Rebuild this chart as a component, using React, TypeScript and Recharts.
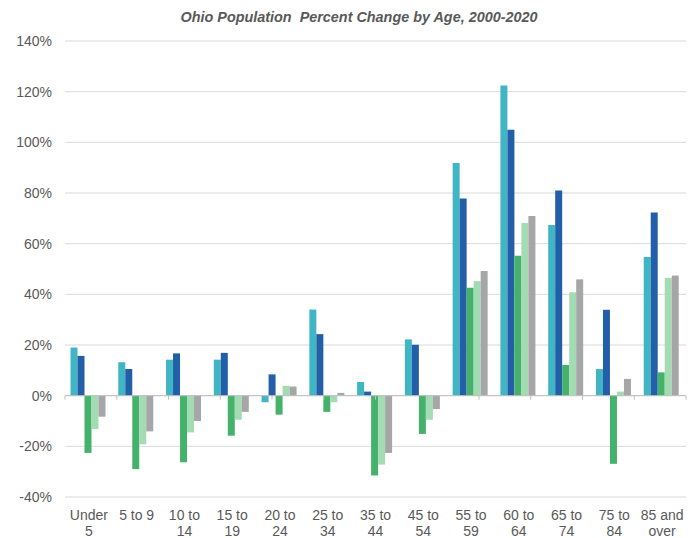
import React from 'react';
import {
  BarChart,
  Bar,
  XAxis,
  YAxis,
  CartesianGrid,
  ReferenceLine,
} from 'recharts';

const ages = [
  'Under 5', '5 to 9', '10 to 14', '15 to 19', '20 to 24', '25 to 34', '35 to 44',
  '45 to 54', '55 to 59', '60 to 64', '65 to 74', '75 to 84', '85 and over',
];
const labelLines = [
  ['Under', '5'], ['5 to 9'], ['10 to', '14'], ['15 to', '19'], ['20 to', '24'],
  ['25 to', '34'], ['35 to', '44'], ['45 to', '54'], ['55 to', '59'], ['60 to', '64'],
  ['65 to', '74'], ['75 to', '84'], ['85 and', 'over'],
];

const s1 = [19.0, 13.2, 14.2, 14.2, -2.6, 34.0, 5.4, 22.2, 91.8, 122.4, 67.4, 10.5, 54.7];
const s2 = [15.7, 10.5, 16.7, 16.9, 8.4, 24.3, 1.6, 20.1, 77.8, 105.0, 81.0, 33.9, 72.3];
const s3 = [-22.6, -29.0, -26.3, -15.8, -7.5, -6.4, -31.5, -15.1, 42.6, 55.2, 12.1, -26.9, 9.2];
const s4 = [-13.2, -19.2, -14.5, -9.5, 3.9, -2.6, -27.2, -9.5, 45.2, 68.2, 40.8, 1.6, 46.5];
const s5 = [-8.3, -14.1, -10.0, -6.4, 3.6, 1.1, -22.6, -5.3, 49.2, 70.9, 45.9, 6.6, 47.4];

const yTicks = [-40, -20, 0, 20, 40, 60, 80, 100, 120, 140];
const boundaries = [0, 1, 2, 3, 4, 5, 6, 7, 8, 9, 10, 11, 12, 13];

const colors = ['#40B6C4', '#235FA8', '#45B26B', '#A3DBB3', '#A6A6A6'];

const data = ages.map((age, i) => ({
  age,
  s1: s1[i],
  s2: s2[i],
  s3: s3[i],
  s4: s4[i],
  s5: s5[i],
}));

const AgeTick = ({ x, y, payload, index }: any) => {
  const lines = labelLines[index] || [payload.value];
  return (
    <text x={x} y={y} textAnchor="middle" fill="#595959" fontSize={14}>
      {lines.map((l: string, k: number) => (
        <tspan key={k} x={x} dy={k === 0 ? 15 : 16}>
          {l}
        </tspan>
      ))}
    </text>
  );
};

export default function App() {
  return (
    <div
      style={{
        position: 'absolute',
        left: 0,
        top: 0,
        width: 698,
        height: 538,
        background: '#fff',
        fontFamily: '"Liberation Sans", Arial, sans-serif',
      }}
    >
      <div
        style={{
          position: 'absolute',
          top: 9,
          left: 0,
          width: 718,
          textAlign: 'center',
          fontSize: 14.4,
          fontWeight: 'bold',
          fontStyle: 'italic',
          color: '#595959',
          whiteSpace: 'pre',
        }}
      >
        Ohio Population  Percent Change by Age, 2000-2020
      </div>
      <BarChart
        width={698}
        height={538}
        data={data}
        margin={{ top: 41, right: 12, left: 0, bottom: 0 }}
        barCategoryGap="11.5%"
        barGap={0}
      >
        <CartesianGrid vertical={false} stroke="#D9D9D9" />
        <XAxis
          dataKey="age"
          axisLine={false}
          tickLine={false}
          interval={0}
          height={41}
          tick={<AgeTick />}
        />
        <XAxis xAxisId="num" type="number" domain={[0, 13]} hide />
        <YAxis
          domain={[-40, 140]}
          ticks={yTicks}
          interval={0}
          width={65}
          axisLine={false}
          tickLine={false}
          tickSize={0}
          tickMargin={13}
          tickFormatter={(v: number) => `${v}%`}
          tick={{ fill: '#595959', fontSize: 14 }}
        />
        <Bar dataKey="s1" fill={colors[0]} isAnimationActive={false} />
        <Bar dataKey="s2" fill={colors[1]} isAnimationActive={false} />
        <Bar dataKey="s3" fill={colors[2]} isAnimationActive={false} />
        <Bar dataKey="s4" fill={colors[3]} isAnimationActive={false} />
        <Bar dataKey="s5" fill={colors[4]} isAnimationActive={false} />
        <ReferenceLine y={0} stroke="#BFBFBF" strokeWidth={1} />
        {boundaries.map((b) => (
          <ReferenceLine
            key={b}
            xAxisId="num"
            segment={[
              { x: b, y: 0 },
              { x: b, y: -1.6 },
            ]}
            stroke="#BFBFBF"
          />
        ))}
      </BarChart>
    </div>
  );
}
